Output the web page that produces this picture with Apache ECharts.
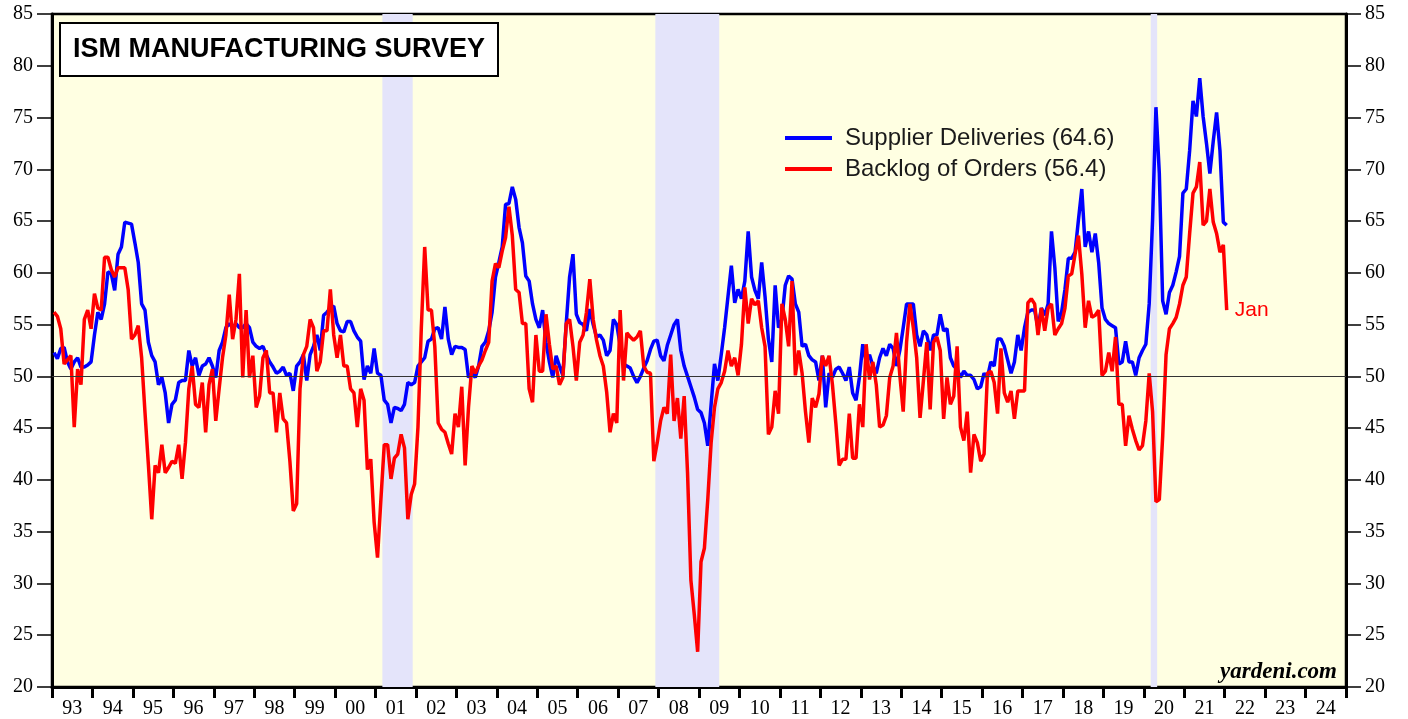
<!DOCTYPE html>
<html>
<head>
<meta charset="utf-8">
<title>ISM Manufacturing Survey</title>
<script src="https://cdn.jsdelivr.net/npm/echarts@6/dist/echarts.min.js"></script>
<style>
  html, body { margin: 0; padding: 0; background: #fff; }
  #chart { width: 1408px; height: 719px; }
</style>
</head>
<body>
<div id="chart"></div>
<script>
// monthly readings, Jan 1993 .. Jan 2022, one row per year
var supplierDeliveries = [
  52.3, 51.7, 52.7, 52.8, 51.4, 50.7, 51.4, 51.8, 50.9, 50.9, 51.1, 51.4, // 93
  54.0, 56.2, 55.5, 57.0, 60.1, 59.9, 58.3, 61.8, 62.5, 64.9, 64.8, 64.7, // 94
  62.9, 61.0, 57.0, 56.4, 53.3, 52.0, 51.4, 49.2, 49.9, 48.4, 45.5, 47.3, // 95
  47.7, 49.4, 49.6, 49.6, 52.5, 51.0, 51.8, 50.1, 51.0, 51.2, 51.8, 51.0, // 96
  49.9, 52.5, 53.3, 54.7, 55.1, 54.7, 55.1, 54.7, 54.7, 55.1, 54.7, 53.3, // 97
  52.9, 52.7, 52.9, 52.1, 51.4, 50.9, 50.3, 50.5, 50.9, 50.1, 50.3, 48.6, // 98
  51.0, 51.4, 52.1, 49.6, 52.1, 52.9, 54.0, 52.5, 55.9, 56.2, 56.6, 56.8, // 99
  55.1, 54.4, 54.3, 55.3, 55.3, 54.4, 53.8, 53.4, 49.7, 51.0, 50.3, 52.7, // 00
  50.3, 50.1, 47.7, 47.3, 45.5, 47.0, 46.9, 46.7, 47.3, 49.4, 49.2, 49.4, // 01
  51.0, 51.4, 51.8, 53.4, 53.6, 54.6, 54.7, 53.6, 56.7, 53.6, 52.1, 52.9, // 02
  52.8, 52.8, 52.6, 49.9, 50.3, 49.9, 51.0, 52.9, 53.3, 54.4, 56.2, 59.6, // 03
  61.0, 62.5, 66.6, 66.7, 68.3, 67.1, 64.4, 62.9, 59.7, 59.2, 57.0, 55.5, // 04
  54.7, 56.4, 53.3, 51.4, 49.9, 52.0, 51.0, 50.1, 55.1, 59.6, 61.8, 56.0, // 05
  55.2, 55.0, 54.4, 56.5, 55.0, 53.8, 54.0, 53.5, 52.0, 52.5, 55.5, 55.0, // 06
  53.0, 51.2, 51.0, 50.8, 50.0, 49.4, 50.0, 50.8, 51.5, 52.6, 53.4, 53.5, // 07
  52.0, 51.5, 53.0, 54.0, 55.0, 55.5, 52.5, 51.0, 50.0, 49.0, 48.0, 46.8, // 08
  46.5, 45.5, 43.3, 47.3, 51.2, 49.6, 52.1, 54.7, 57.7, 60.7, 57.1, 58.4, // 09
  57.5, 59.2, 64.0, 59.6, 58.3, 57.5, 61.0, 57.7, 53.6, 51.4, 58.8, 54.7, // 10
  55.5, 58.8, 59.7, 59.4, 57.0, 56.2, 52.9, 53.1, 52.0, 51.6, 51.4, 49.6, // 11
  52.0, 47.0, 50.3, 49.9, 50.7, 50.9, 50.3, 49.6, 50.9, 48.4, 47.7, 49.9, // 12
  53.1, 51.4, 52.1, 51.0, 50.3, 51.8, 52.7, 52.0, 53.1, 52.7, 51.0, 52.5, // 13
  54.7, 57.0, 57.0, 57.0, 54.0, 52.9, 54.4, 54.0, 52.5, 54.0, 54.0, 56.0, // 14
  54.4, 54.6, 51.8, 51.0, 50.7, 49.9, 50.5, 50.1, 50.1, 49.7, 48.8, 49.0, // 15
  50.3, 49.9, 51.4, 51.0, 53.6, 53.6, 52.9, 51.6, 50.3, 51.4, 54.0, 52.5, // 16
  54.7, 56.2, 56.4, 56.4, 54.7, 56.6, 55.9, 57.0, 64.0, 60.5, 55.3, 56.2, // 17
  58.4, 61.4, 61.4, 62.0, 65.1, 68.1, 62.5, 64.0, 62.0, 63.8, 61.0, 56.6, // 18
  55.5, 55.1, 54.9, 54.7, 51.2, 51.4, 53.4, 51.4, 51.4, 50.1, 51.8, 52.5, // 19
  53.1, 57.0, 65.1, 76.0, 69.6, 57.3, 56.0, 58.1, 58.8, 60.1, 61.6, 67.7, // 20
  68.1, 71.8, 76.6, 75.1, 78.8, 75.1, 72.5, 69.6, 72.7, 75.5, 71.8, 64.9, // 21
  64.6                                                                    // 22
];

var backlogOfOrders = [
  56.2, 55.8, 54.6, 51.2, 51.6, 52.0, 45.1, 50.7, 49.2, 55.5, 56.4, 54.6, // 93
  58.0, 56.6, 56.4, 61.5, 61.5, 60.3, 59.6, 60.5, 60.5, 60.5, 58.4, 53.6, // 94
  54.0, 54.9, 51.8, 46.5, 41.5, 36.2, 41.4, 40.7, 43.4, 40.7, 41.2, 41.8, // 95
  41.6, 43.4, 40.1, 43.6, 48.8, 51.0, 47.3, 47.0, 49.4, 44.6, 49.2, 50.7, // 96
  45.7, 48.8, 51.8, 54.0, 57.9, 53.6, 55.5, 59.9, 49.9, 56.4, 49.9, 52.0, // 97
  47.0, 48.1, 51.8, 52.5, 48.4, 48.4, 44.6, 48.4, 45.9, 45.5, 41.8, 37.0, // 98
  37.7, 48.8, 52.1, 52.9, 55.5, 54.7, 50.5, 51.4, 54.4, 54.4, 58.4, 54.0, // 99
  51.8, 54.0, 51.0, 51.0, 48.8, 48.4, 45.1, 48.8, 47.7, 41.0, 42.0, 35.9, // 00
  32.5, 38.1, 43.4, 43.4, 40.1, 42.1, 42.5, 44.4, 43.1, 36.2, 38.6, 39.6, // 01
  45.1, 54.7, 62.5, 56.4, 56.4, 52.9, 45.5, 44.9, 44.6, 43.5, 42.5, 46.4, // 02
  45.1, 49.0, 41.4, 47.0, 51.0, 50.3, 51.0, 51.6, 52.5, 53.3, 59.2, 60.9, // 03
  60.5, 62.1, 63.4, 66.4, 63.6, 58.4, 58.1, 55.1, 55.1, 48.8, 47.5, 54.0, // 04
  50.5, 50.5, 56.0, 53.1, 50.7, 51.0, 49.2, 49.9, 55.1, 55.5, 52.9, 49.6, // 05
  53.3, 54.0, 56.2, 59.4, 55.5, 53.5, 52.0, 51.0, 48.5, 44.6, 46.4, 45.5, // 06
  56.4, 49.6, 54.2, 53.8, 53.5, 53.8, 54.4, 51.0, 50.4, 50.3, 41.8, 43.6, // 07
  45.7, 47.0, 46.4, 52.1, 45.7, 47.9, 44.0, 48.1, 40.7, 30.3, 27.0, 23.4, // 08
  32.1, 33.4, 38.1, 43.6, 47.0, 48.8, 49.4, 50.5, 52.5, 51.0, 51.8, 50.1, // 09
  53.1, 58.6, 55.1, 57.5, 56.9, 57.3, 54.7, 52.9, 44.4, 45.1, 48.6, 46.4, // 10
  57.0, 55.5, 52.9, 59.2, 50.1, 52.5, 50.3, 46.6, 43.6, 47.9, 47.0, 48.3, // 11
  52.0, 51.0, 52.0, 49.2, 45.5, 41.4, 42.0, 42.0, 46.4, 42.1, 42.1, 47.3, // 12
  45.1, 53.1, 49.7, 51.4, 49.2, 45.1, 45.3, 46.2, 49.9, 51.0, 54.2, 50.1, // 13
  46.6, 53.3, 57.0, 54.7, 51.8, 46.0, 49.6, 53.3, 46.8, 53.3, 53.8, 52.5, // 14
  45.9, 49.9, 47.3, 48.1, 52.9, 45.1, 43.8, 46.6, 40.7, 44.4, 43.6, 41.8, // 15
  42.5, 50.3, 50.5, 49.4, 46.4, 52.7, 48.4, 47.5, 48.6, 45.9, 48.6, 48.6, // 16
  48.6, 57.1, 57.5, 57.0, 54.0, 56.6, 54.4, 56.6, 57.0, 54.0, 54.6, 55.1, // 17
  56.6, 59.7, 59.9, 61.8, 63.6, 59.9, 54.7, 57.3, 55.7, 55.9, 56.4, 50.1, // 18
  50.5, 52.3, 50.5, 53.8, 47.3, 47.3, 43.3, 46.2, 44.9, 43.8, 42.9, 43.3, // 19
  45.7, 50.3, 46.6, 37.9, 38.1, 44.2, 52.1, 54.6, 55.1, 55.7, 57.0, 58.8, // 20
  59.6, 63.8, 67.7, 68.3, 70.7, 64.6, 65.0, 68.1, 64.9, 63.8, 62.0, 62.7, // 21
  56.4                                                                    // 22
];

var yearLabels = ['93', '94', '95', '96', '97', '98', '99', '00', '01', '02', '03',
  '04', '05', '06', '07', '08', '09', '10', '11', '12', '13', '14', '15', '16',
  '17', '18', '19', '20', '21', '22', '23', '24'];

// recession shading, decimal years
var recessions = [[2001.17, 2001.92], [2007.92, 2009.5], [2020.17, 2020.33]];

var firstYear = 1993;
var lastYear = 2025;

function toPoints(values) {
  var points = [];
  for (var i = 0; i < values.length; i++) {
    points.push([firstYear + (i + 0.6) / 12, values[i]]);
  }
  return points;
}

var serif = '"Liberation Serif", "DejaVu Serif", serif';
var sans = '"Liberation Sans", Arial, sans-serif';

var myChart = echarts.init(document.getElementById('chart'));

function yAxisFor(position) {
  return {
    type: 'value',
    position: position,
    min: 20,
    max: 85,
    interval: 5,
    axisLine: { show: true, lineStyle: { color: '#000', width: 3 } },
    axisTick: { show: true, inside: false, length: 15, lineStyle: { color: '#000', width: 1.5 } },
    axisLabel: { color: '#000', fontSize: 20, fontFamily: serif, margin: 19 },
    splitLine: { show: false }
  };
}

var option = {
  animation: false,
  backgroundColor: '#fff',
  grid: {
    left: 52,
    right: 62,
    top: 14,
    bottom: 32,
    show: true,
    backgroundColor: '#ffffe2',
    borderColor: '#000',
    borderWidth: 2.5
  },
  legend: {
    orient: 'vertical',
    left: 780,
    top: 121,
    itemWidth: 47,
    itemHeight: 4,
    itemGap: 7,
    icon: 'rect',
    textStyle: { color: '#1a1a1a', fontSize: 24, fontFamily: sans, lineHeight: 20, padding: [0, 0, 0, 8] },
    data: ['Supplier Deliveries (64.6)', 'Backlog of Orders (56.4)']
  },
  xAxis: [
    {
      type: 'category',
      data: yearLabels,
      boundaryGap: true,
      position: 'bottom',
      axisLine: { show: true, lineStyle: { color: '#000', width: 3 } },
      axisTick: { show: true, interval: 0, length: 11, lineStyle: { color: '#000', width: 3 } },
      axisLabel: { interval: 0, color: '#000', fontSize: 20, fontFamily: serif, margin: 12 },
      splitLine: { show: false }
    },
    {
      type: 'value',
      min: firstYear,
      max: lastYear,
      show: false
    }
  ],
  yAxis: [yAxisFor('left'), yAxisFor('right')],
  graphic: [
    {
      type: 'group',
      left: 59,
      top: 22,
      z: 100,
      children: [
        {
          type: 'rect',
          z: 100,
          shape: { x: 0, y: 0, width: 438, height: 53 },
          style: { fill: '#fff', stroke: '#000', lineWidth: 2 }
        },
        {
          type: 'text',
          z: 101,
          x: 219,
          y: 27,
          style: {
            text: 'ISM MANUFACTURING SURVEY',
            font: 'bold 27px ' + sans,
            fill: '#000',
            textAlign: 'center',
            textVerticalAlign: 'middle'
          }
        }
      ]
    },
    {
      type: 'text',
      x: 1337,
      y: 672,
      z: 100,
      style: {
        text: 'yardeni.com',
        font: 'italic bold 23px ' + serif,
        fill: '#000',
        textAlign: 'right',
        textVerticalAlign: 'middle'
      }
    }
  ],
  series: [
    {
      name: 'Supplier Deliveries (64.6)',
      type: 'line',
      xAxisIndex: 1,
      yAxisIndex: 0,
      showSymbol: false,
      symbol: 'none',
      color: '#0000ff',
      lineStyle: { color: '#0000ff', width: 3.5 },
      data: toPoints(supplierDeliveries),
      markArea: {
        silent: true,
        itemStyle: { color: '#e4e4fa', opacity: 1 },
        data: recessions.map(function (r) {
          return [{ xAxis: r[0] }, { xAxis: r[1] }];
        })
      },
      z: 3
    },
    {
      name: 'Backlog of Orders (56.4)',
      type: 'line',
      xAxisIndex: 1,
      yAxisIndex: 0,
      showSymbol: false,
      symbol: 'none',
      color: '#ff0000',
      lineStyle: { color: '#ff0000', width: 3.5 },
      data: toPoints(backlogOfOrders),
      endLabel: {
        show: true,
        formatter: 'Jan',
        color: '#ff0000',
        fontSize: 21,
        fontFamily: sans,
        distance: 8
      },
      markLine: {
        silent: true,
        symbol: 'none',
        label: { show: false },
        lineStyle: { color: '#333', width: 1.2, type: 'solid' },
        data: [{ yAxis: 50 }]
      },
      z: 4
    }
  ]
};

myChart.setOption(option);
</script>
</body>
</html>
